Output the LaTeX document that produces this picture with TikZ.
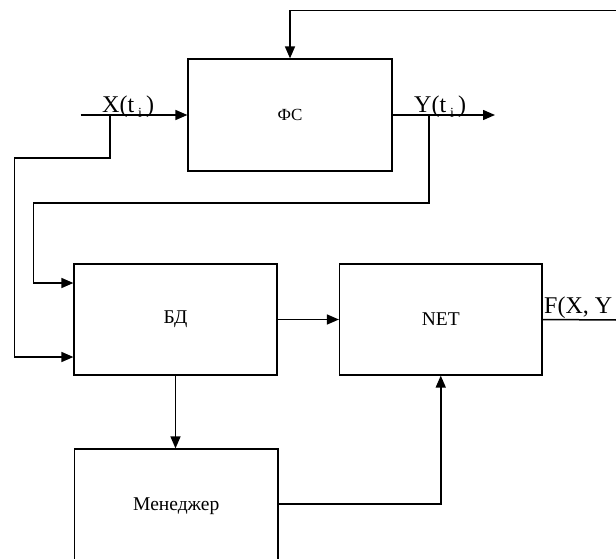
\documentclass[tikz,border=0pt]{standalone}
\usepackage{fontspec}
\setmainfont{Liberation Serif}
\usetikzlibrary{arrows.meta}
\begin{document}
\begin{tikzpicture}[x=1pt,y=-1pt,
  box/.style={draw, line width=1.2pt, inner sep=0pt, font=\fontsize{19.5}{22}\selectfont},
  conn/.style={line width=1.5pt},
  arr/.style={conn, -{Triangle[length=12pt,width=10pt]}},
  sig/.style={font=\fontsize{24}{28}\selectfont, inner sep=0pt, anchor=base west}]
\useasboundingbox (0,0) rectangle (616,559);
\clip (0,0) rectangle (616,559);
% boxes
\node[box, minimum width=204pt, minimum height=112pt, font=\fontsize{17}{20}\selectfont] (fs) at (290,115) {ФС};
\node[box, minimum width=203pt, minimum height=111pt] (bd) at (175.5,319.5) {БД};
\node[box, minimum width=202.5pt, minimum height=111pt] (net) at (440.75,319.5) {NET};
\node[box, minimum width=203.5pt, minimum height=115pt] (men) at (176.25,506.5) {Менеджер};
% free ends and routing points
\coordinate (fbR) at (616,10.5);
\coordinate (xin) at (80.7,115);
\coordinate (yout) at (495,115);
\coordinate (xb) at (110,115);
\coordinate (yb) at (429,115);
\coordinate (xlow) at (14.5,357);
\coordinate (ylow) at (33.4,283);
\coordinate (mrow) at (0,504);
\coordinate (fout) at (616,320);
% signal labels
\node[sig] (lx) at (102,113) {X(t\,\raisebox{-5pt}{\fontsize{14}{14}\selectfont i}\,)};
\node[sig] (ly) at (414,113) {Y(t\,\raisebox{-5pt}{\fontsize{14}{14}\selectfont i}\,)};
\node[sig] (lf) at (544,313) {F(X, Y};
% connectors
\draw[arr] (fbR) -| (fs.north);
\draw[arr] (xin) -- (fs.west);
\draw[arr] (fs.east) -- (yout);
\draw[arr] (xb) -- (110,158) -- (14.5,158) -- (xlow) -- (bd.west |- xlow);
\draw[arr] (yb) -- (429,203) -- (33.4,203) -- (ylow) -- (bd.west |- ylow);
\draw[arr] (bd.east) -- (net.west);
\draw[arr] (bd.south) -- (bd.south |- men.north);
\draw[arr] (men.east |- mrow) -| (net.south);
\draw[conn] (net.east) -- (fout);
\end{tikzpicture}
\end{document}
